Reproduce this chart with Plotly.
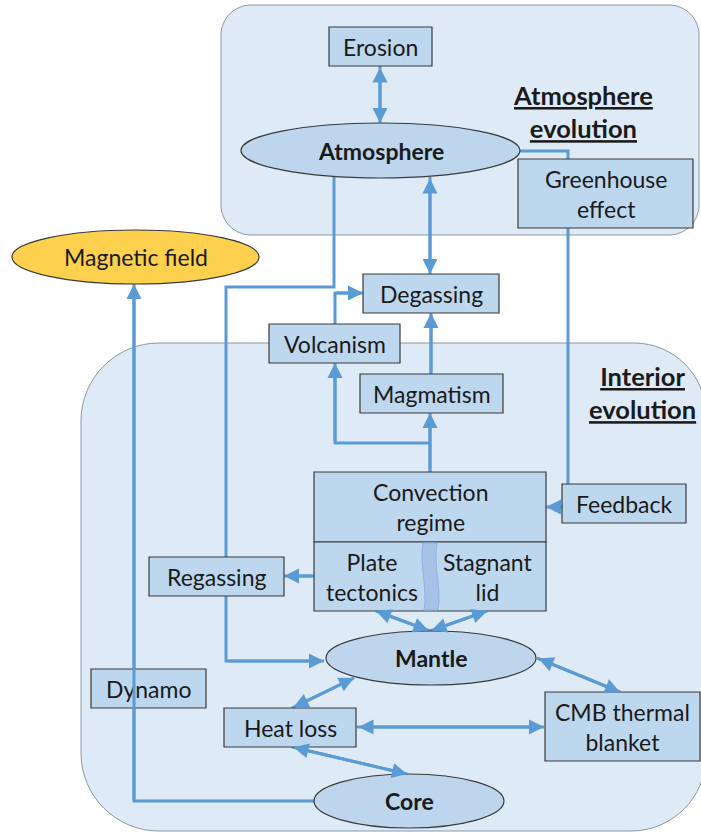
import plotly.graph_objects as go

W, H = 701, 832

# ---------------- data: labels ----------------
box_labels = ["Erosion", "Greenhouse<br>effect", "Degassing", "Volcanism", "Magmatism",
              "Convection<br>regime", "Feedback", "Regassing", "Dynamo", "Heat loss",
              "CMB thermal<br>blanket"]
ellipse_labels = ["Atmosphere", "Magnetic field", "Mantle", "Core"]
bold_ellipse = [True, False, True, True]
split_labels = ["Plate<br>tectonics", "Stagnant<br>lid"]
panel_titles = ["Atmosphere<br>evolution", "Interior<br>evolution"]

# ---------------- layout geometry (pixels) ----------------
box_geom = {
    "Erosion": (329, 27, 432, 66),
    "Greenhouse<br>effect": (518, 159, 693, 228),
    "Degassing": (363, 274, 499, 313),
    "Volcanism": (269, 324, 400, 363),
    "Magmatism": (360, 374, 503, 413),
    "Convection<br>regime": (314, 472, 546, 542),
    "Feedback": (562, 484, 686, 523),
    "Regassing": (149, 557, 284, 596),
    "Dynamo": (91, 669, 206, 708),
    "Heat loss": (224, 708, 356, 747),
    "CMB thermal<br>blanket": (545, 692, 700, 761),
}
split_geom = (314, 542, 546, 611)
split_text_x = [372, 488]
ellipse_geom = {
    "Atmosphere": (380.5, 150.5, 139.5, 27.5),
    "Magnetic field": (135.5, 257, 123.5, 27),
    "Mantle": (431, 658, 105, 27),
    "Core": (409, 801, 95, 27),
}
ellipse_fill = {"Atmosphere": "#bdd5ed", "Magnetic field": "#fdd04e",
                "Mantle": "#bdd5ed", "Core": "#bdd5ed"}
title_pos = [(583, 111.5), (642, 392.5)]

# connectors: (points, arrow at start, arrow at end)
connectors = [
    ([(380, 66), (380, 123)], True, True),                       # Erosion <-> Atmosphere
    ([(430, 177), (430, 274)], True, True),                      # Atmosphere <-> Degassing
    ([(334, 177), (334, 287), (226, 287), (226, 661), (324, 661)], False, True),  # Atmosphere -> Mantle
    ([(520, 151), (568, 151), (568, 484)], False, False),        # Atmosphere - Greenhouse - Feedback
    ([(562, 507), (546, 507)], False, True),                     # Feedback -> Convection
    ([(430, 472), (430, 413)], False, True),                     # Convection -> Magmatism
    ([(430, 443), (335, 443), (335, 363)], False, True),         # Convection -> Volcanism
    ([(431, 374), (431, 313)], False, True),                     # Magmatism -> Degassing
    ([(335, 324), (335, 293), (363, 293)], False, True),         # Volcanism -> Degassing
    ([(314, 576), (284, 576)], False, True),                     # Plate tectonics -> Regassing
    ([(430, 631), (376, 611)], True, True),                      # Mantle <-> Plate tectonics
    ([(430, 631), (487, 611)], True, True),                      # Mantle <-> Stagnant lid
    ([(537, 658), (620, 692)], True, True),                      # Mantle <-> CMB
    ([(292, 708), (354, 678)], True, True),                      # Heat loss <-> Mantle
    ([(357, 727), (544, 727)], True, True),                      # Heat loss <-> CMB
    ([(292, 747), (407, 774)], True, True),                      # Heat loss <-> Core
    ([(314, 801), (134, 801), (134, 284)], False, True),         # Core -> Magnetic field
]

LINE = "#5b9bd5"
BOX_FILL = "#bdd7ee"
PANEL_FILL = "#deeaf6"
PANEL_LINE = "#8a97a5"
EDGE = "#3a3a3a"
TXT = "#1a1a1a"
FONT = "Lato"
FS = 23

fig = go.Figure()
fig.add_trace(go.Scatter(x=[0, W], y=[0, H], mode="markers",
                         marker=dict(opacity=0), hoverinfo="skip", showlegend=False))

shapes = []
annotations = []
K = 0.5523


def rounded(x0, y0, x1, y1, rtl, rtr, rbr, rbl):
    p = f"M{x0 + rtl},{y0} L{x1 - rtr},{y0} "
    p += f"C{x1 - rtr + K * rtr},{y0} {x1},{y0 + rtr - K * rtr} {x1},{y0 + rtr} "
    p += f"L{x1},{y1 - rbr} "
    p += f"C{x1},{y1 - rbr + K * rbr} {x1 - rbr + K * rbr},{y1} {x1 - rbr},{y1} "
    p += f"L{x0 + rbl},{y1} "
    p += f"C{x0 + rbl - K * rbl},{y1} {x0},{y1 - rbl + K * rbl} {x0},{y1 - rbl} "
    p += f"L{x0},{y0 + rtl} "
    p += f"C{x0},{y0 + rtl - K * rtl} {x0 + rtl - K * rtl},{y0} {x0 + rtl},{y0} Z"
    return p


# panels
shapes.append(dict(type="path", path=rounded(221, 5, 699, 235, 30, 30, 30, 30),
                   fillcolor=PANEL_FILL, line=dict(color=PANEL_LINE, width=1),
                   xref="x", yref="y", layer="above"))
shapes.append(dict(type="path", path=rounded(81, 343, 706, 831, 78, 72, 75, 78),
                   fillcolor=PANEL_FILL, line=dict(color=PANEL_LINE, width=1),
                   xref="x", yref="y", layer="above"))

# connector lines
for pts, a_start, a_end in connectors:
    path = "M" + " L".join(f"{x},{y}" for x, y in pts)
    shapes.append(dict(type="path", path=path, fillcolor="rgba(0,0,0,0)",
                       line=dict(color=LINE, width=3), xref="x", yref="y", layer="above"))

# boxes
for lab in box_labels:
    x0, y0, x1, y1 = box_geom[lab]
    shapes.append(dict(type="rect", x0=x0, y0=y0, x1=x1, y1=y1, fillcolor=BOX_FILL,
                       line=dict(color=EDGE, width=1.2), xref="x", yref="y", layer="above"))
    annotations.append(dict(x=(x0 + x1) / 2, y=(y0 + y1) / 2, text=lab, showarrow=False,
                            xref="x", yref="y", font=dict(family=FONT, size=FS, color=TXT)))

# split box (plate tectonics / stagnant lid)
sx0, sy0, sx1, sy1 = split_geom
shapes.append(dict(type="rect", x0=sx0, y0=sy0, x1=sx1, y1=sy1, fillcolor=BOX_FILL,
                   line=dict(color=EDGE, width=1.2), xref="x", yref="y", layer="above"))
shapes.append(dict(type="path",
                   path=f"M423,{sy0 + 1} C419,565 428,590 424,{sy1 - 1} L438,{sy1 - 1} "
                        f"C442,590 433,565 437,{sy0 + 1} Z",
                   fillcolor="#a6c2e7", line=dict(color="#93b3de", width=1),
                   xref="x", yref="y", layer="above"))
for lab, tx in zip(split_labels, split_text_x):
    annotations.append(dict(x=tx, y=(sy0 + sy1) / 2, text=lab, showarrow=False,
                            xref="x", yref="y", font=dict(family=FONT, size=FS, color=TXT)))

# ellipses
for lab, bold in zip(ellipse_labels, bold_ellipse):
    cx, cy, rx, ry = ellipse_geom[lab]
    shapes.append(dict(type="circle", x0=cx - rx, x1=cx + rx, y0=cy - ry, y1=cy + ry,
                       fillcolor=ellipse_fill[lab], line=dict(color=EDGE, width=1.2),
                       xref="x", yref="y", layer="above"))
    annotations.append(dict(x=cx, y=cy, text=f"<b>{lab}</b>" if bold else lab,
                            showarrow=False, xref="x", yref="y",
                            font=dict(family=FONT, size=FS, color=TXT)))

# panel titles
for lab, (tx, ty) in zip(panel_titles, title_pos):
    parts = lab.split("<br>")
    txt = "<br>".join(f"<b><u>{p}</u></b>" for p in parts)
    annotations.append(dict(x=tx, y=ty, text=txt, showarrow=False, xref="x", yref="y",
                            font=dict(family=FONT, size=25.5, color=TXT)))

# arrow heads
for pts, a_start, a_end in connectors:
    if not (a_start or a_end):
        continue
    if len(pts) == 2 and a_start and a_end:
        (x0, y0), (x1, y1) = pts
        annotations.append(dict(x=x1, y=y1, ax=x0, ay=y0, xref="x", yref="y",
                                axref="x", ayref="y", text="", showarrow=True,
                                arrowhead=2, arrowsize=1, arrowwidth=3, arrowcolor=LINE,
                                arrowside="end+start", startarrowhead=2, startarrowsize=1))
    elif a_end:
        (x0, y0), (x1, y1) = pts[-2], pts[-1]
        annotations.append(dict(x=x1, y=y1, ax=x0, ay=y0, xref="x", yref="y",
                                axref="x", ayref="y", text="", showarrow=True,
                                arrowhead=2, arrowsize=1, arrowwidth=3, arrowcolor=LINE))

fig.update_layout(
    width=W, height=H, margin=dict(l=0, r=0, t=0, b=0),
    paper_bgcolor="white", plot_bgcolor="white",
    xaxis=dict(range=[0, W], visible=False, fixedrange=True),
    yaxis=dict(range=[H, 0], visible=False, fixedrange=True),
    shapes=shapes, annotations=annotations, showlegend=False,
)
fig.write_html("out.html", config={"displayModeBar": False},
               post_script="document.body.style.margin='0';document.body.style.overflow='hidden';")
